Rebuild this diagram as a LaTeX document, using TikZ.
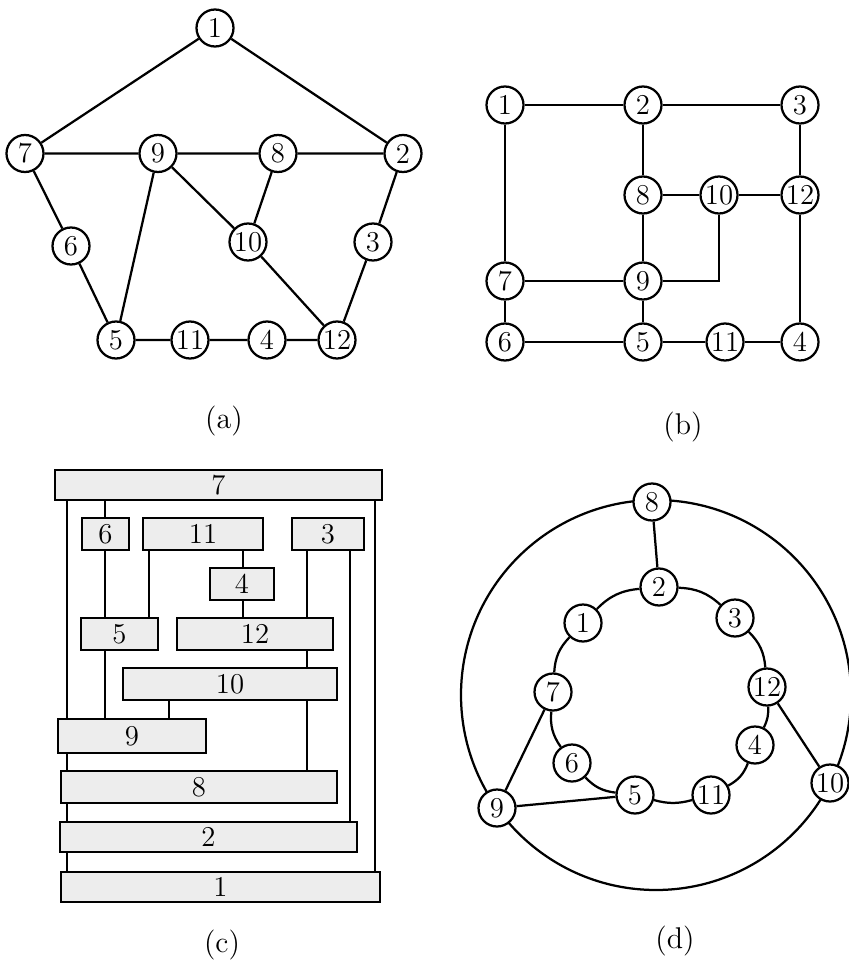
\documentclass[tikz,border=0pt]{standalone}
\begin{document}
\begin{tikzpicture}[x=0.4pt,y=-0.4pt,
  vtx/.style={circle,draw,line width=0.9pt,fill=white,minimum size=14.8pt,inner sep=0pt,font=\fontsize{11.5}{13}\selectfont},
  bx/.style={rectangle,draw,line width=1pt,fill=black!7,inner sep=0pt,minimum height=12.8pt,font=\fontsize{11.5}{13}\selectfont},
  ln/.style={line width=0.9pt},
  captxt/.style={font=\fontsize{12}{14}\selectfont}]
\useasboundingbox (0,0) rectangle (848,966);

% ---------- (a) ----------
\node[vtx] (a1) at (215,28) {1};
\node[vtx] (a7) at (25,153.5) {7};
\node[vtx] (a9) at (158,153.5) {9};
\node[vtx] (a8) at (278,153.5) {8};
\node[vtx] (a2) at (403,153.5) {2};
\node[vtx] (a6) at (71,246) {6};
\node[vtx] (a10) at (248,242) {10};
\node[vtx] (a3) at (373,242) {3};
\node[vtx] (a5) at (116,340) {5};
\node[vtx] (a11) at (190,340) {11};
\node[vtx] (a4) at (267,340) {4};
\node[vtx] (a12) at (337,340) {12};
\draw[ln] (a1)--(a7) (a1)--(a2) (a7)--(a9) (a9)--(a8) (a8)--(a2)
  (a7)--(a6) (a6)--(a5) (a9)--(a5) (a9)--(a10) (a8)--(a10) (a10)--(a12)
  (a2)--(a3) (a3)--(a12) (a5)--(a11) (a11)--(a4) (a4)--(a12);
\node[captxt] (la) at (224,421) {(a)};

% ---------- (b) ----------
\node[vtx] (b1) at (505,105) {1};
\node[vtx] (b2) at (643,105) {2};
\node[vtx] (b3) at (800,105) {3};
\node[vtx] (b8) at (643,195) {8};
\node[vtx] (b10) at (719,195) {10};
\node[vtx] (b12) at (800,195) {12};
\node[vtx] (b7) at (505,281) {7};
\node[vtx] (b9) at (643,281) {9};
\node[vtx] (b6) at (505,342) {6};
\node[vtx] (b5) at (643,342) {5};
\node[vtx] (b11) at (725,342) {11};
\node[vtx] (b4) at (800,342) {4};
\draw[ln] (b1)--(b2) (b2)--(b3) (b1)--(b7) (b2)--(b8) (b3)--(b12)
  (b8)--(b10) (b10)--(b12) (b8)--(b9) (b7)--(b9) (b7)--(b6) (b9)--(b5)
  (b12)--(b4) (b6)--(b5) (b5)--(b11) (b11)--(b4);
\draw[ln] (b10) |- (b9);
\node[captxt] (lb) at (683,427) {(b)};

% ---------- (c) ----------
\node[bx,minimum width=130.8pt,minimum height=12pt] (c7) at (218.5,485) {7};
\node[bx,minimum width=18.8pt] (c6) at (105.5,534) {6};
\node[bx,minimum width=48pt] (c11) at (203,534) {11};
\node[bx,minimum width=28.8pt] (c3) at (328,534) {3};
\node[bx,minimum width=25.6pt] (c4) at (242,584) {4};
\node[bx,minimum width=30.8pt] (c5) at (119.5,634) {5};
\node[bx,minimum width=62.4pt] (c12) at (255,634) {12};
\node[bx,minimum width=85.6pt] (c10) at (230,684) {10};
\node[bx,minimum width=59.2pt,minimum height=13.6pt] (c9) at (132,736) {9};
\node[bx,minimum width=110.4pt] (c8) at (199,787) {8};
\node[bx,minimum width=118.8pt,minimum height=12pt] (c2) at (208.5,837) {2};
\node[bx,minimum width=127.6pt,minimum height=12pt] (c1) at (220.5,887) {1};
\coordinate (xA) at (67,0);
\coordinate (xB) at (105,0);
\coordinate (xC) at (149,0);
\coordinate (xD) at (243,0);
\coordinate (xE) at (307,0);
\coordinate (xF) at (169,0);
\coordinate (xG) at (350,0);
\coordinate (xH) at (375,0);
\draw[ln] (c7.south -| xA) -- (c9.north -| xA);
\draw[ln] (c9.south -| xA) -- (c8.north -| xA);
\draw[ln] (c8.south -| xA) -- (c2.north -| xA);
\draw[ln] (c2.south -| xA) -- (c1.north -| xA);
\draw[ln] (c7.south -| xB) -- (c6.north -| xB);
\draw[ln] (c6.south -| xB) -- (c5.north -| xB);
\draw[ln] (c5.south -| xB) -- (c9.north -| xB);
\draw[ln] (c11.south -| xC) -- (c5.north -| xC);
\draw[ln] (c11.south -| xD) -- (c4.north -| xD);
\draw[ln] (c4.south -| xD) -- (c12.north -| xD);
\draw[ln] (c3.south -| xE) -- (c12.north -| xE);
\draw[ln] (c12.south -| xE) -- (c10.north -| xE);
\draw[ln] (c10.south -| xE) -- (c8.north -| xE);
\draw[ln] (c10.south -| xF) -- (c9.north -| xF);
\draw[ln] (c3.south -| xG) -- (c2.north -| xG);
\draw[ln] (c7.south -| xH) -- (c1.north -| xH);
\node[captxt] (lc) at (222,945) {(c)};

% ---------- (d) ----------
\coordinate (dc) at (656,695);
\draw[ln] (dc) circle[radius=78pt];
\node[vtx] (d8) at (652,502) {8};
\node[vtx] (d2) at (659,587) {2};
\node[vtx] (d1) at (583,623) {1};
\node[vtx] (d3) at (735,618) {3};
\node[vtx] (d7) at (553,692) {7};
\node[vtx] (d12) at (767,687) {12};
\node[vtx] (d4) at (755,745) {4};
\node[vtx] (d6) at (572,763) {6};
\node[vtx] (d5) at (635,795) {5};
\node[vtx] (d11) at (711,795) {11};
\node[vtx] (d9) at (497,808) {9};
\node[vtx] (d10) at (830,783) {10};
\draw[ln] (d8)--(d2) (d7)--(d9) (d9)--(d5) (d12)--(d10);
\draw[ln] (d2) to[bend right=20] (d1);
\draw[ln] (d1) to[bend right=20] (d7);
\draw[ln] (d7) to[bend right=20] (d6);
\draw[ln] (d6) to[bend right=20] (d5);
\draw[ln] (d5) to[bend right=15] (d11);
\draw[ln] (d11) to[bend right=20] (d4);
\draw[ln] (d4) to[bend right=15] (d12);
\draw[ln] (d12) to[bend right=20] (d3);
\draw[ln] (d3) to[bend right=20] (d2);
\node[captxt] (ld) at (675,941) {(d)};
\end{tikzpicture}
\end{document}
